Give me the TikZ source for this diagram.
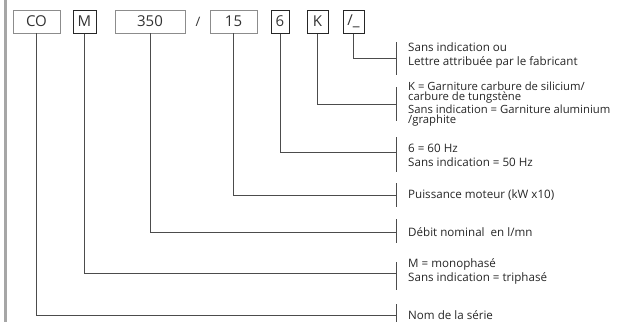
\documentclass[tikz,border=0pt]{standalone}
\usepackage{fontspec}
\setmainfont{Open Sans}
\begin{document}
\begin{tikzpicture}[x=1pt,y=-1pt,
  lightbox/.style={draw=black!45,line width=0.7pt,minimum height=23pt,inner sep=0pt,font=\fontsize{15}{15}\selectfont,text=black!80},
  darkbox/.style={draw=black!85,line width=1pt,minimum height=23pt,inner sep=0pt,font=\fontsize{15}{15}\selectfont,text=black!80},
  conn/.style={draw=black!70,line width=0.7pt},
  brk/.style={draw=black!70,line width=0.7pt},
  lbl/.style={anchor=west,align=left,inner sep=0pt,text=black!85,font=\fontsize{11.6}{14}\selectfont},
  lbltight/.style={anchor=west,align=left,inner sep=0pt,text=black!85,font=\fontsize{11.3}{10.7}\selectfont}
]
\useasboundingbox (0,0) rectangle (628,322);
\fill[black!35] (4,0) rectangle (6.5,322);
% boxes
\node[lightbox,minimum width=47pt] (co) at (36.5,21.5) {CO};
\node[darkbox,minimum width=23pt] (m) at (84.5,21.5) {M};
\node[lightbox,minimum width=70pt] (n350) at (150,21.5) {350};
\node[inner sep=0pt,font=\fontsize{13}{13}\selectfont,text=black!80] (slash) at (198,21.5) {/};
\node[lightbox,minimum width=47pt] (n15) at (233.5,21.5) {15};
\node[darkbox,minimum width=18pt] (six) at (280,21.5) {6};
\node[darkbox,minimum width=21pt] (k) at (317.5,21.5) {K};
\node[darkbox,minimum width=21pt] (sl) at (353.5,21.5) {/\_};
% bracket end coordinates
\coordinate (eSl) at (396,58);
\coordinate (eK) at (396,104);
\coordinate (eSix) at (396,152);
\coordinate (e15) at (396,195);
\coordinate (e350) at (396,232);
\coordinate (eM) at (396,273);
\coordinate (eCO) at (396,315);
% connectors
\draw[conn] (sl.south) |- (eSl);
\draw[conn] (k.south) |- (eK);
\draw[conn] (six.south) |- (eSix);
\draw[conn] (n15.south) |- (e15);
\draw[conn] (n350.south) |- (e350);
\draw[conn] (m.south) |- (eM);
\draw[conn] (co.south) |- (eCO);
% brackets
\draw[brk] (396,42) -- (396,75);
\draw[brk] (396,87) -- (396,121);
\draw[brk] (396,137) -- (396,172);
\draw[brk] (396,183) -- (396,207);
\draw[brk] (396,219) -- (396,243);
\draw[brk] (396,262) -- (396,290);
\draw[brk] (396,304) -- (396,322);
% labels
\node[lbl] (tSl) at (408,55) {Sans indication ou\\Lettre attribuée par le fabricant};
\node[lbltight] (tK) at (408,104) {K = Garniture carbure de silicium/\\carbure de tungstène\\Sans indication = Garniture aluminium\\/graphite};
\node[lbl] (tSix) at (408,155) {6 = 60 Hz\\Sans indication = 50 Hz};
\node[lbl] (t15) at (408,195) {Puissance moteur (kW x10)};
\node[lbl] (t350) at (408,232) {Débit nominal\ \ en l/mn};
\node[lbl] (tM) at (408,271) {M = monophasé\\Sans indication = triphasé};
\node[lbl] (tCO) at (408,315) {Nom de la série};
\end{tikzpicture}
\end{document}
